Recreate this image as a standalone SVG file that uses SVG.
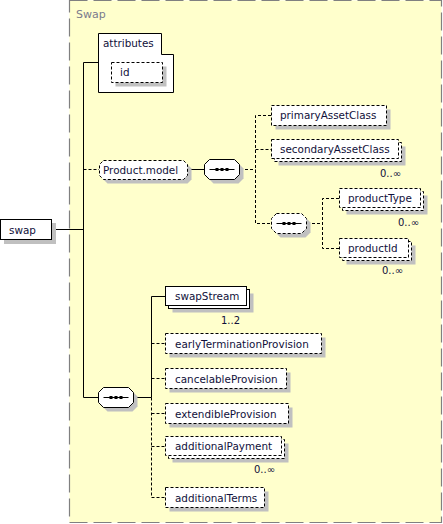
<svg xmlns="http://www.w3.org/2000/svg" width="443" height="524" viewBox="0 0 443 524">
<style>
text{font-family:"DejaVu Sans",Verdana,sans-serif;font-size:10.4px;fill:#10103a}
.occ{font-size:10px}
.box{fill:#fff;stroke:#000;stroke-width:1}
.opt{stroke-dasharray:3 2}
.sh{fill:#c0c0c0;stroke:none}
.ln{fill:none;stroke:#000;stroke-width:1}
.dl{fill:none;stroke:#000;stroke-width:1;stroke-dasharray:3 2}
</style>
<defs>
<path id="comp" d="M5,0H30L35,5V15L30,20H5L0,15V5Z"/>
<g id="seqicon"><path d="M5,10H30" stroke="#000" stroke-width="1"/><rect x="11" y="8.5" width="3" height="3" fill="#000"/><rect x="16" y="8.5" width="3" height="3" fill="#000"/><rect x="21" y="8.5" width="3" height="3" fill="#000"/></g>
</defs>
<g id="group-Swap">
<rect x="69.5" y="0.5" width="372" height="522" fill="#ffffcc" stroke="#808080" stroke-width="1.2" stroke-dasharray="18 6"/>
<text x="76" y="18" style="font-size:11px;fill:#7a7a8c">Swap</text>
</g>
<g id="connectors">
<path class="ln" d="M52,229.5H83.5"/>
<path class="ln" d="M98,62.5H83.5V397.5H98"/>
<path class="dl" d="M83.5,169.5H99"/>
<path class="ln" d="M188,169.5H204"/>
<path class="dl" d="M240,169.5H255.5"/>
<path class="dl" d="M271,115.5H255.5V223.5H271"/>
<path class="dl" d="M255.5,149.5H271"/>
<path class="dl" d="M307,223.5H322.5"/>
<path class="dl" d="M339,198.5H322.5V248.5H339"/>
<path class="ln" d="M134,397.5H151.5"/>
<path class="ln" d="M165,296.5H151.5V397.5"/>
<path class="dl" d="M151.5,397.5V497.5H165"/>
<path class="dl" d="M151.5,343.5H165"/>
<path class="dl" d="M151.5,378.5H165"/>
<path class="dl" d="M151.5,413.5H165"/>
<path class="dl" d="M151.5,446.5H165"/>
</g>
<g id="node-swap">
<rect class="sh" x="4" y="223" width="52" height="21"/>
<rect class="box" x="0.5" y="219.5" width="51" height="20"/>
<text x="9" y="233.5">swap</text>
</g>
<g id="node-attributes">
<path class="box" d="M98.5,33.5H161.5V54.5H173.5V92.5H98.5Z"/>
<text x="103" y="47">attributes</text>
</g>
<g id="node-id">
<rect class="sh" x="115.5" y="66.5" width="51" height="20"/>
<rect class="box opt" x="111.5" y="62.5" width="51" height="20"/>
<text x="120" y="76">id</text>
</g>
<g id="node-Product.model">
<path class="sh" d="M107.5,164.5H187.5L191.5,168.5V179.5L187.5,183.5H107.5L103.5,179.5V168.5Z"/>
<path class="box opt" d="M103.5,160.5H183.5L187.5,164.5V175.5L183.5,179.5H103.5L99.5,175.5V164.5Z"/>
<text x="103" y="174">Product.model</text>
</g>
<g id="node-seq1">
<use href="#comp" x="208.5" y="163.5" class="sh"/>
<use href="#comp" x="204.5" y="159.5" class="box"/>
<use href="#seqicon" x="204.5" y="159.5"/>
</g>
<g id="node-primaryAssetClass">
<rect class="sh" x="275.5" y="109.5" width="115" height="20"/>
<rect class="box opt" x="271.5" y="105.5" width="115" height="20"/>
<text x="280" y="119">primaryAssetClass</text>
</g>
<g id="node-secondaryAssetClass">
<rect class="sh" x="278.5" y="146.5" width="127" height="19"/>
<rect class="box opt" x="274.5" y="142.5" width="127" height="19"/>
<rect class="box opt" x="271.5" y="139.5" width="127" height="19"/>
<text x="280" y="153">secondaryAssetClass</text>
<text class="occ" x="401" y="177" text-anchor="end">0..∞</text>
</g>
<g id="node-seq2">
<use href="#comp" x="275.5" y="217.5" class="sh"/>
<use href="#comp" x="271.5" y="213.5" class="box opt"/>
<use href="#seqicon" x="271.5" y="213.5"/>
</g>
<g id="node-productType">
<rect class="sh" x="346.5" y="195.5" width="81" height="19"/>
<rect class="box opt" x="342.5" y="191.5" width="81" height="19"/>
<rect class="box opt" x="339.5" y="188.5" width="81" height="19"/>
<text x="348" y="202">productType</text>
<text class="occ" x="419" y="226" text-anchor="end">0..∞</text>
</g>
<g id="node-productId">
<rect class="sh" x="346.5" y="245.5" width="69" height="19"/>
<rect class="box opt" x="342.5" y="241.5" width="69" height="19"/>
<rect class="box opt" x="339.5" y="238.5" width="69" height="19"/>
<text x="348" y="252">productId</text>
<text class="occ" x="403" y="274" text-anchor="end">0..∞</text>
</g>
<g id="node-seq3">
<use href="#comp" x="102.5" y="391.5" class="sh"/>
<use href="#comp" x="98.5" y="387.5" class="box"/>
<use href="#seqicon" x="98.5" y="387.5"/>
</g>
<g id="node-swapStream">
<rect class="sh" x="172.5" y="293.5" width="81" height="19"/>
<rect class="box" x="168.5" y="289.5" width="81" height="19"/>
<rect class="box" x="165.5" y="286.5" width="81" height="19"/>
<text x="175" y="300">swapStream</text>
<text class="occ" x="240" y="324" text-anchor="end">1..2</text>
</g>
<g id="node-earlyTerminationProvision">
<rect class="sh" x="169.5" y="337.5" width="156" height="20"/>
<rect class="box opt" x="165.5" y="333.5" width="156" height="20"/>
<text x="175" y="347.5">earlyTerminationProvision</text>
</g>
<g id="node-cancelableProvision">
<rect class="sh" x="169.5" y="372.5" width="121" height="20"/>
<rect class="box opt" x="165.5" y="368.5" width="121" height="20"/>
<text x="175" y="382.5">cancelableProvision</text>
</g>
<g id="node-extendibleProvision">
<rect class="sh" x="169.5" y="407.5" width="123" height="20"/>
<rect class="box opt" x="165.5" y="403.5" width="123" height="20"/>
<text x="175" y="417.5">extendibleProvision</text>
</g>
<g id="node-additionalPayment">
<rect class="sh" x="172.5" y="443.5" width="116" height="19"/>
<rect class="box opt" x="168.5" y="439.5" width="116" height="19"/>
<rect class="box opt" x="165.5" y="436.5" width="116" height="19"/>
<text x="175" y="450">additionalPayment</text>
<text class="occ" x="275" y="473" text-anchor="end">0..∞</text>
</g>
<g id="node-additionalTerms">
<rect class="sh" x="169.5" y="491.5" width="99" height="20"/>
<rect class="box opt" x="165.5" y="487.5" width="99" height="20"/>
<text x="175" y="501.5">additionalTerms</text>
</g>
</svg>
